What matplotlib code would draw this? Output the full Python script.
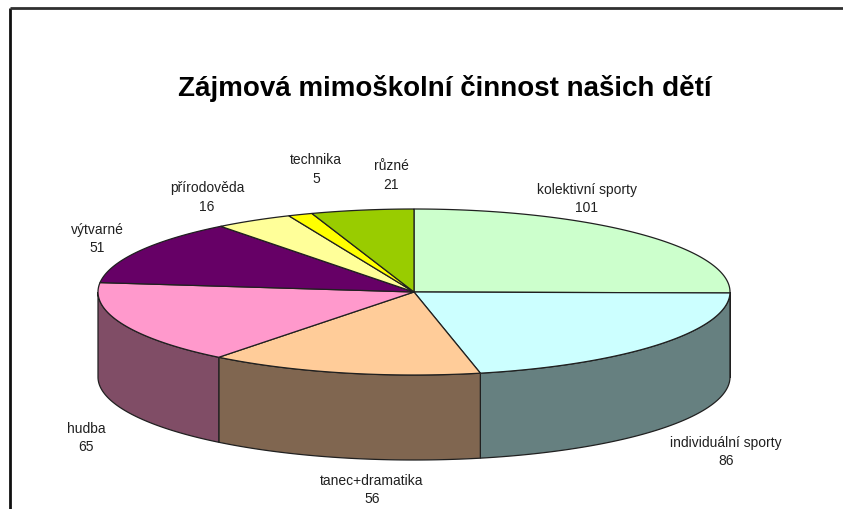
import numpy as np
import matplotlib
matplotlib.use("Agg")
import matplotlib.pyplot as plt
from matplotlib.patches import Polygon

plt.rcParams['font.family'] = ['Liberation Sans', 'DejaVu Sans']

#data, clockwise from 12 o'clock
categories = ["kolektivní sporty", "individuální sporty", "tanec+dramatika", "hudba",
              "výtvarné", "přírodověda", "technika", "různé"]
values = [101, 86, 56, 65, 51, 16, 5, 21]
top_colors = ["#CCFFCC", "#CCFFFF", "#FFCC99", "#FF99CC", "#660066", "#FFFF99", "#FFFF00", "#99CC00"]
side_colors = ["#668066", "#668080", "#806650", "#804D66", "#330033", "#80804D", "#808000", "#4D6600"]
title = "Zájmová mimoškolní činnost našich dětí"

#pie geometry in pixels
cx, cy = 414, 293
rx, ry = 316, 83
depth = 85
edge = "#202020"

label_pos = [(587, 199), (726, 452), (372, 490), (86, 438),
             (97, 239), (207, 197.5), (316, 169.5), (391, 175.5)]


def rim(a0, a1):
    t = np.radians(np.linspace(a0, a1, 120))
    return cx + rx * np.cos(t), cy - ry * np.sin(t)


fig = plt.figure(figsize=(8.43, 5.10), dpi=100)
ax = fig.add_axes([0, 0, 1, 1])
ax.set_xlim(0, 843)
ax.set_ylim(510, 0)
ax.axis("off")

#frame, open on the right and bottom
ax.plot([10, 10], [510, 9], color="#101010", lw=2.0, solid_capstyle="butt")
ax.plot([10, 843], [9, 9], color="#303030", lw=2.0, solid_capstyle="butt")

angles = 90 - np.cumsum([0] + values) / sum(values) * 360

#sides first, only the front half of the rim shows
for i in range(len(values)):
    a0, a1 = angles[i], angles[i + 1]
    a0, a1 = min(a0, 0), max(a1, -180)
    if a0 <= a1:
        continue
    x, y = rim(a0, a1)
    pts = np.column_stack([np.r_[x, x[::-1]], np.r_[y, y[::-1] + depth]])
    ax.add_patch(Polygon(pts, closed=True, fc=side_colors[i], ec=edge, lw=0.9))

#top faces
for i in range(len(values)):
    x, y = rim(angles[i], angles[i + 1])
    pts = np.column_stack([np.r_[cx, x], np.r_[cy, y]])
    ax.add_patch(Polygon(pts, closed=True, fc=top_colors[i], ec=edge, lw=0.9))

for name, val, (lx, ly) in zip(categories, values, label_pos):
    ax.text(lx, ly, f"{name}\n{val}", ha="center", va="center", fontsize=10,
            color="#202020", linespacing=1.42)

ax.text(444.5, 88.5, title, ha="center", va="center", fontsize=20, fontweight="bold", color="black")

fig.savefig("out.png", dpi=100)
